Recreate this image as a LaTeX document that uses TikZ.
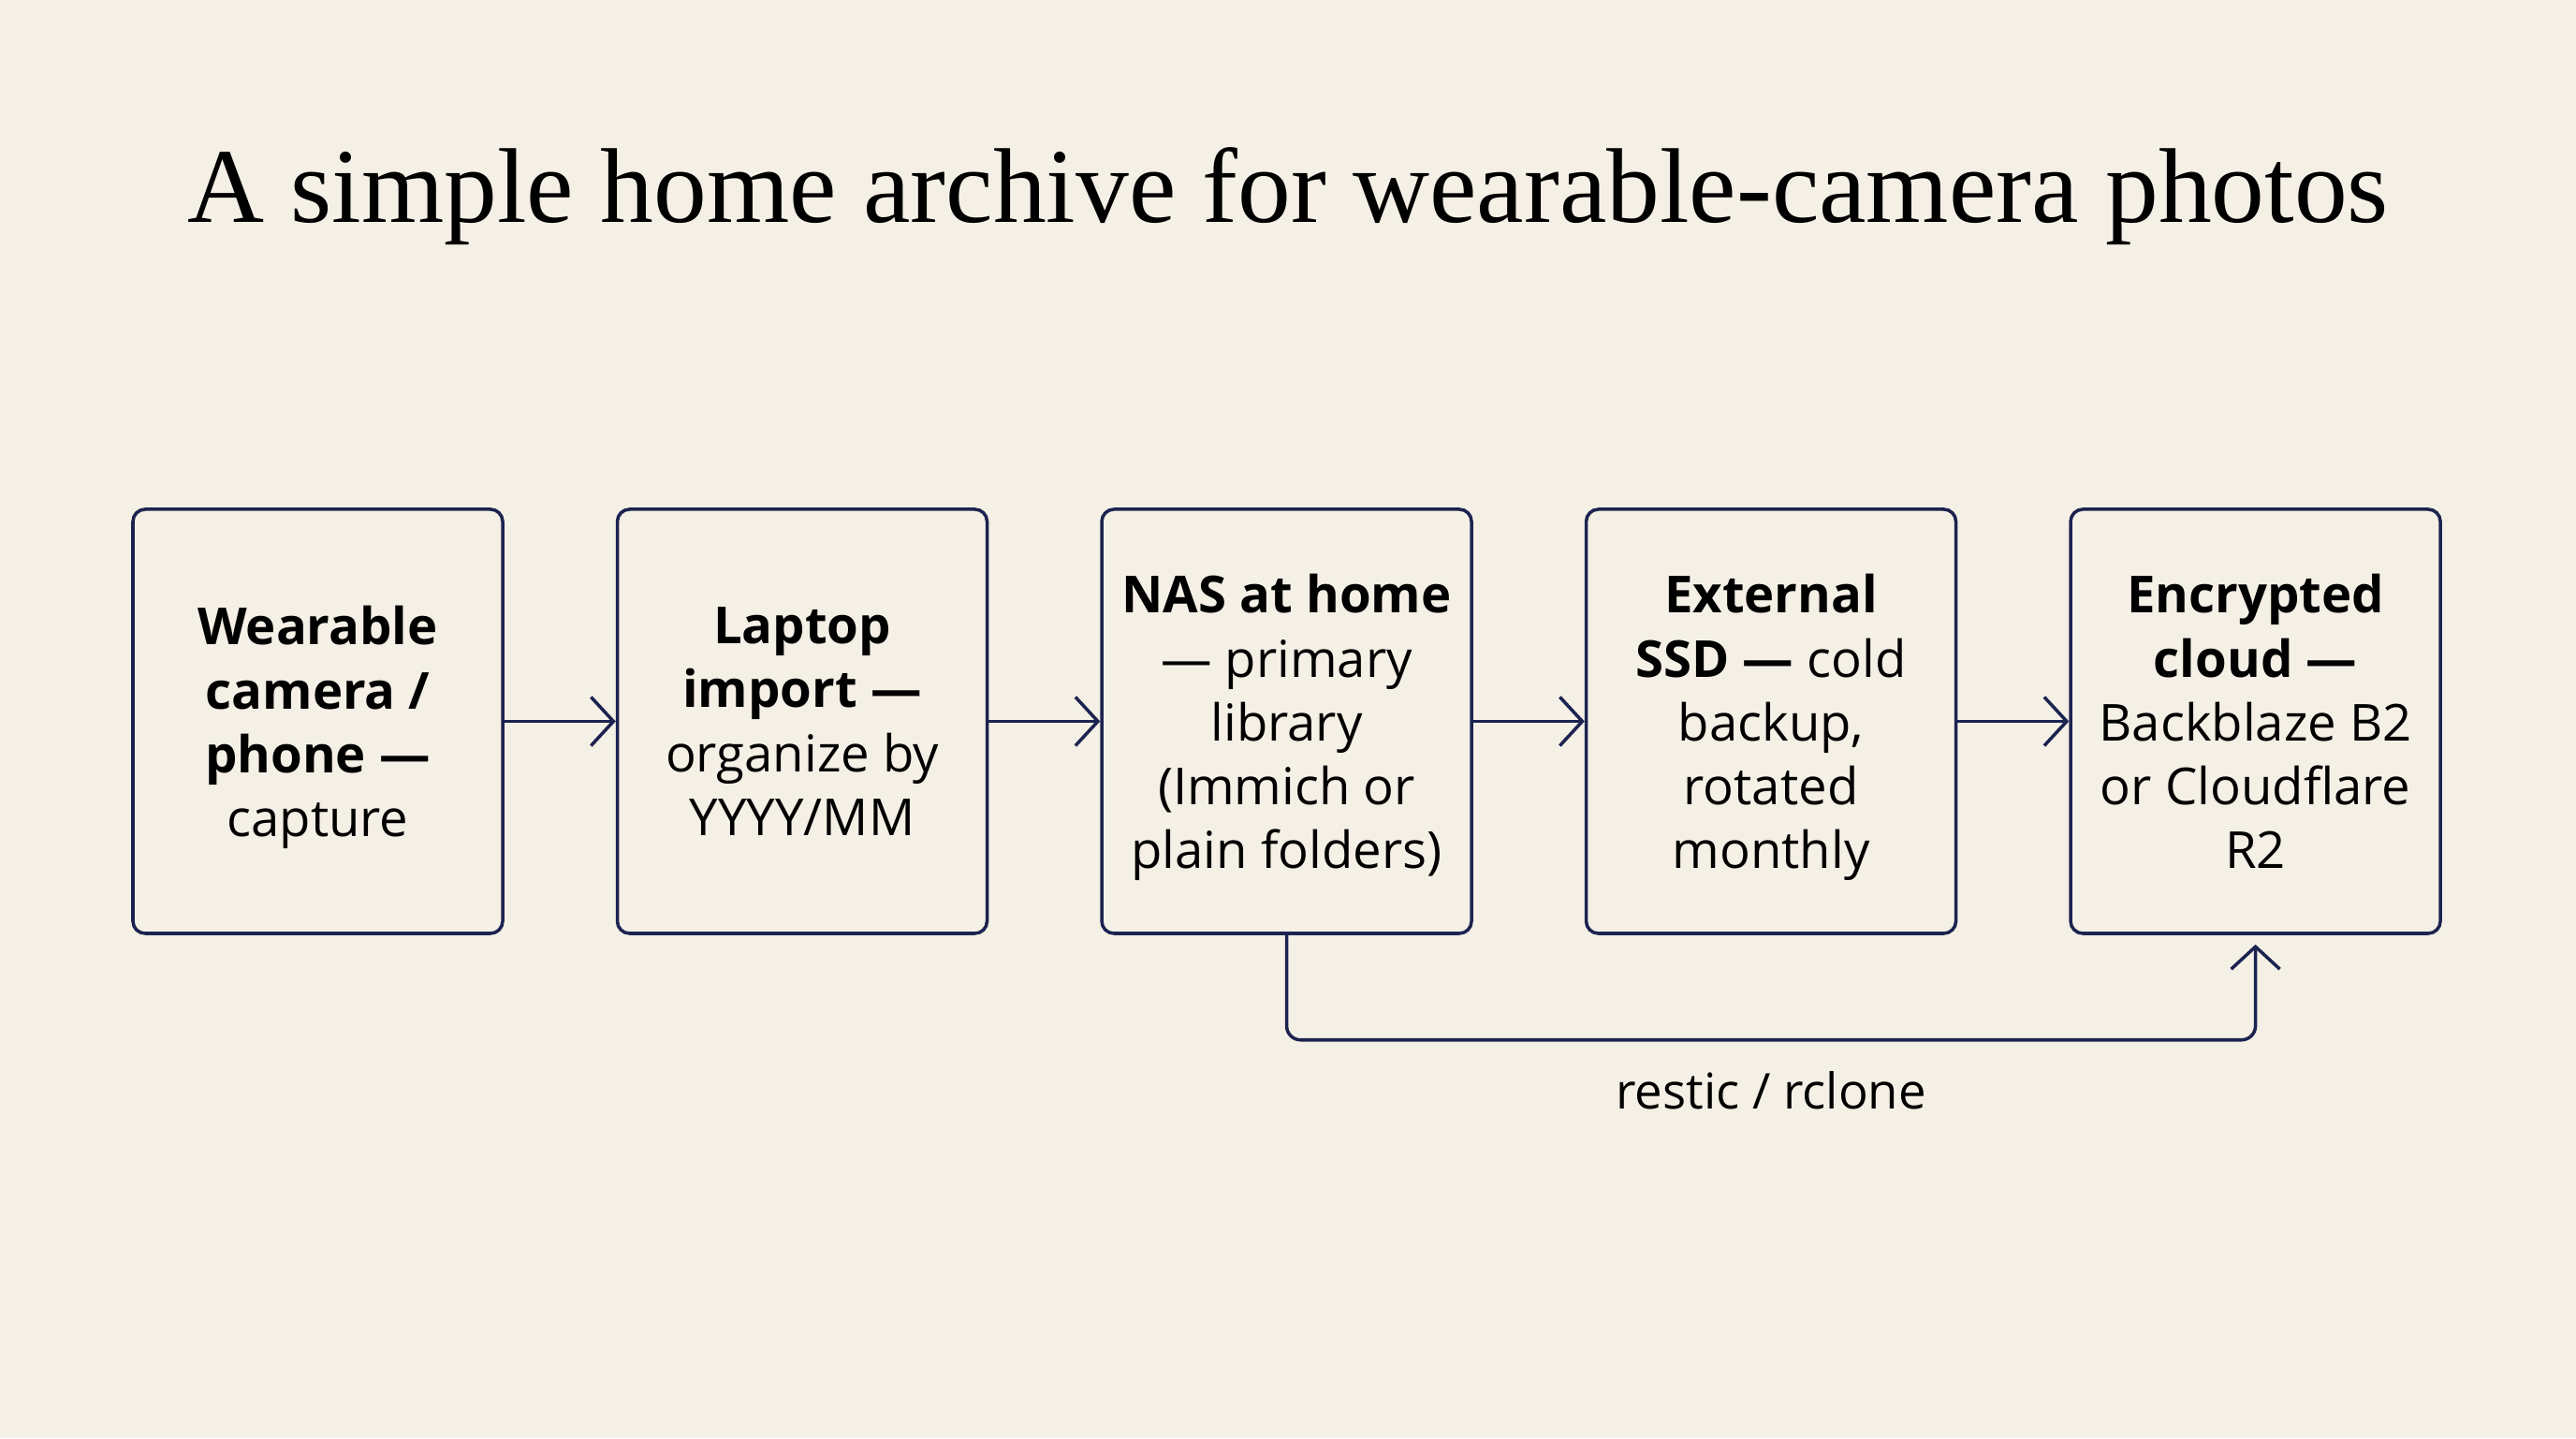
\documentclass[tikz,border=0pt]{standalone}
\usepackage{fontspec}
\setmainfont{Liberation Serif}
\newfontfamily\boxfont{Open Sans}
\usetikzlibrary{arrows.meta,positioning}
\definecolor{paper}{HTML}{F5F0E6}
\definecolor{ink}{HTML}{1C2350}

\begin{document}
\begin{tikzpicture}[x=1cm,y=1cm,
  stage/.style={draw=ink,line width=1pt,rounded corners=0.13cm,
    minimum width=3.95cm,minimum height=4.53cm,inner sep=0pt,align=center,
    text depth=-0.27cm,font=\boxfont\fontsize{15.5}{19.4}\selectfont},
  flow/.style={draw=ink,line width=1pt,-{Straight Barb[length=2.4mm,width=5.2mm]}}]
  \fill[paper] (0,0) rectangle (27.52,15.36);
  \node[font=\fontsize{32.3}{38}\selectfont,anchor=base] (title) at (13.76,12.98)
    {A simple home archive for wearable-camera photos};
  % pipeline
  \node[stage] (cam) at (3.395,7.655)
    {\textbf{Wearable}\\\textbf{camera /}\\\textbf{phone —}\\capture};
  \node[stage,right=1.19cm of cam] (laptop)
    {\textbf{Laptop}\\\textbf{import —}\\organize by\\YYYY/MM};
  \node[stage,right=1.19cm of laptop] (nas)
    {\textbf{NAS at home}\\— primary\\library\\(Immich or\\plain folders)};
  \node[stage,right=1.19cm of nas] (ssd)
    {\textbf{External}\\\textbf{SSD —} cold\\backup,\\rotated\\monthly};
  \node[stage,right=1.19cm of ssd] (cloud)
    {\textbf{Encrypted}\\\textbf{cloud —}\\Backblaze B2\\or Cloudflare\\R2};
  \foreach \a/\b in {cam/laptop,laptop/nas,nas/ssd,ssd/cloud}
    \draw[flow] (\a) -- (\b);
  % offsite copy
  \draw[flow,rounded corners=0.15cm,shorten >=0.1cm] (nas.south) -- ++(0,-1.12)
    -| node[pos=0.25,below=0.2cm,font=\boxfont\fontsize{15}{17}\selectfont] (tool)
    {restic / rclone} (cloud.south);
\end{tikzpicture}
\end{document}
